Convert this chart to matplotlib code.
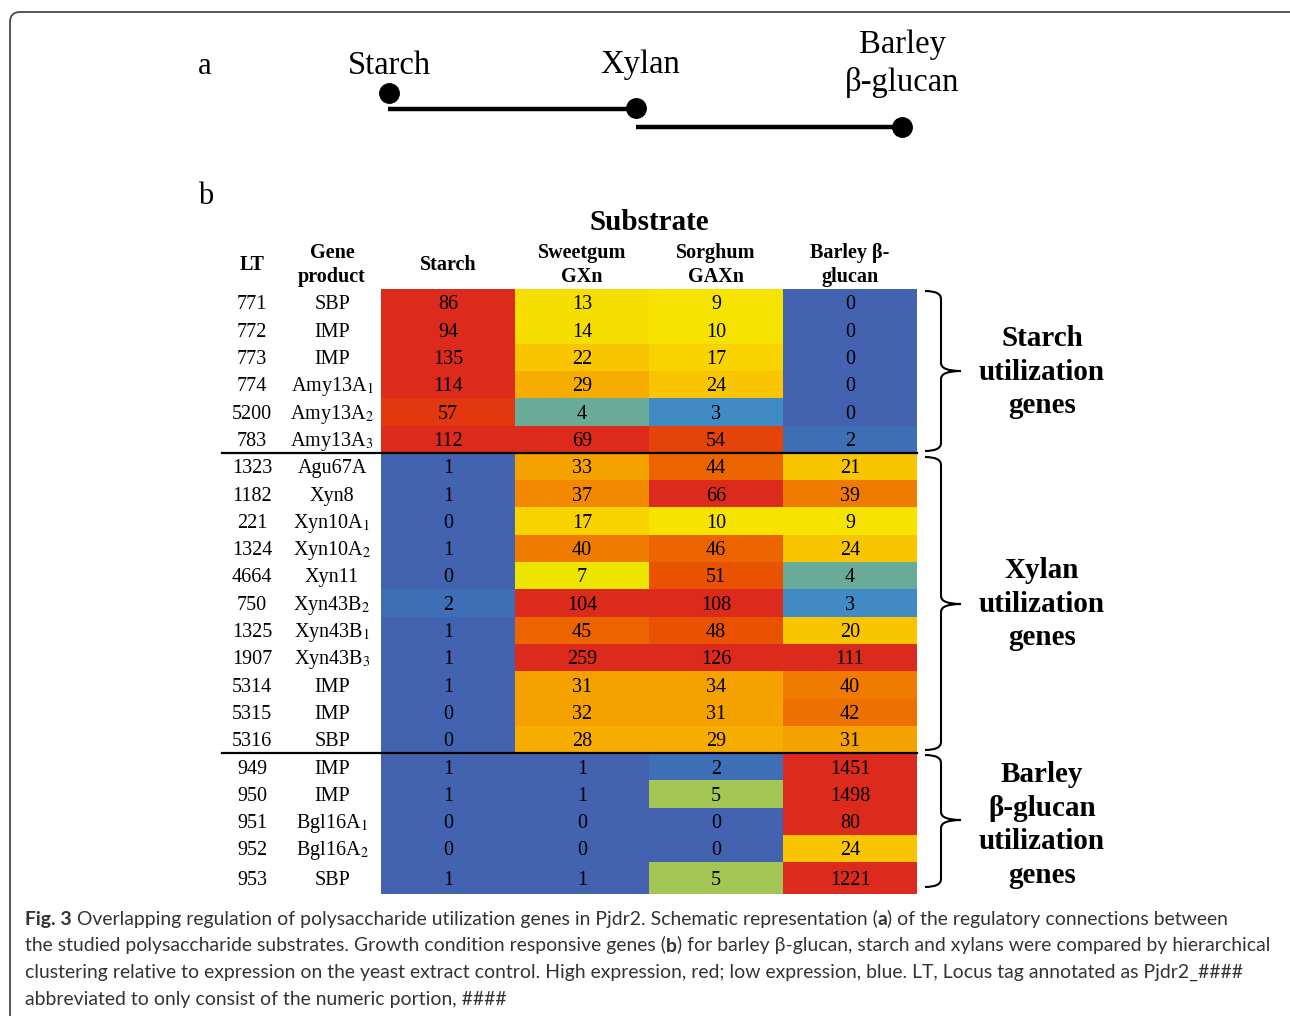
import numpy as np
import matplotlib
matplotlib.use('Agg')
import matplotlib.pyplot as plt
from matplotlib.colors import ListedColormap, BoundaryNorm
from matplotlib.patches import FancyBboxPatch, PathPatch
from matplotlib.path import Path

plt.rcParams['mathtext.fontset'] = 'stix'

# data
lt = ['771', '772', '773', '774', '5200', '783', '1323', '1182', '221', '1324', '4664',
      '750', '1325', '1907', '5314', '5315', '5316', '949', '950', '951', '952', '953']
genes = ['SBP', 'IMP', 'IMP', 'Amy13A$_1$', 'Amy13A$_2$', 'Amy13A$_3$', 'Agu67A', 'Xyn8',
         'Xyn10A$_1$', 'Xyn10A$_2$', 'Xyn11', 'Xyn43B$_2$', 'Xyn43B$_1$', 'Xyn43B$_3$',
         'IMP', 'IMP', 'SBP', 'IMP', 'IMP', 'Bgl16A$_1$', 'Bgl16A$_2$', 'SBP']
substrates = ['Starch', 'Sweetgum\nGXn', 'Sorghum\nGAXn', 'Barley β-\nglucan']
starch = [86, 94, 135, 114, 57, 112, 1, 1, 0, 1, 0, 2, 1, 1, 1, 0, 0, 1, 1, 0, 0, 1]
sweetgum = [13, 14, 22, 29, 4, 69, 33, 37, 17, 40, 7, 104, 45, 259, 31, 32, 28, 1, 1, 0, 0, 1]
sorghum = [9, 10, 17, 24, 3, 54, 44, 66, 10, 46, 51, 108, 48, 126, 34, 31, 29, 2, 5, 0, 0, 5]
barley = [0, 0, 0, 0, 0, 2, 21, 39, 9, 24, 4, 3, 20, 111, 40, 42, 31, 1451, 1498, 80, 24, 1221]
groups = ['Starch\nutilization\ngenes', 'Xylan\nutilization\ngenes',
          'Barley\nβ-glucan\nutilization\ngenes']

# colour scale (blue low -> yellow -> red high)
bounds = [0, 2, 3, 4, 5, 6, 8, 12, 16, 19, 26, 30, 35, 38, 41, 43, 47, 53, 56, 60, 5000]
cols = ['#4363b1', '#3e6eb5', '#418bc5', '#6aaa98', '#a4c655', '#ece500', '#f6e300',
        '#f6de00', '#f8d300', '#f9c500', '#f7ac00', '#f5a100', '#f28900', '#ef7b00',
        '#ee7000', '#eb6400', '#e85200', '#e4430a', '#e3380f', '#dc2a1c']
cmap = ListedColormap(cols)
norm = BoundaryNorm(bounds, cmap.N)

fig = plt.figure(figsize=(12.9, 10.16), dpi=100)
ax = fig.add_axes([0, 0, 1, 1])
ax.set_xlim(0, 1290)
ax.set_ylim(1016, 0)
ax.axis('off')

# outer frame
ax.add_patch(FancyBboxPatch((10, 12), 1300, 1100, boxstyle='round,pad=0,rounding_size=10',
                            fc='none', ec='#4a4a4a', lw=1.3))

serif = 'Liberation Serif'

# ---- panel a
ax.text(205, 66, 'a', fontsize=22, family=serif, ha='center', va='center')
ax.text(389, 66, 'Starch', fontsize=23.5, family=serif, ha='center', va='center')
ax.text(640, 65, 'Xylan', fontsize=23.5, family=serif, ha='center', va='center')
ax.text(902, 64, 'Barley\nβ-glucan', fontsize=23.5, family=serif, ha='center', va='center',
        linespacing=1.3)
ax.plot([388, 636], [109, 109], color='black', lw=3.2, solid_capstyle='butt')
ax.plot([636, 902], [127, 127], color='black', lw=3.2, solid_capstyle='butt')
ax.plot([389, 636, 902], [93, 108, 127], 'o', color='black', ms=14)

# ---- panel b
ax.text(206, 196, 'b', fontsize=22, family=serif, ha='center', va='center')
ax.text(649, 222, 'Substrate', fontsize=21, family=serif, fontweight='bold',
        ha='center', va='center')

x_edges = np.array([381, 515, 649, 783, 917])
row_h = 27.3
y_edges = np.append(289 + np.arange(22) * row_h, 894)
data = np.column_stack([starch, sweetgum, sorghum, barley])
ax.pcolormesh(x_edges, y_edges, data, cmap=cmap, norm=norm)

hdr_kw = dict(fontsize=14.5, family=serif, fontweight='bold', ha='center', va='center',
              linespacing=1.22)
ax.text(252, 265, 'LT', **hdr_kw)
ax.text(332, 265, 'Gene\nproduct', **hdr_kw)
for j, s in enumerate(substrates):
    ax.text((x_edges[j] + x_edges[j + 1]) / 2, 265, s, **hdr_kw)

yc = (y_edges[:-1] + y_edges[1:]) / 2
cell_kw = dict(fontsize=14.5, family=serif, ha='center', va='baseline')
for i in range(len(lt)):
    yb = yc[i] + 6.8
    ax.text(252, yb, lt[i], **cell_kw)
    ax.text(332, yb, genes[i], **cell_kw)
    for j in range(4):
        ax.text((x_edges[j] + x_edges[j + 1]) / 2, yb, str(data[i, j]), **cell_kw)

# group separators
for r in [6, 17]:
    ax.plot([222, 917], [y_edges[r], y_edges[r]], color='black', lw=1.6)


def brace(top, bot, mid, x0=925, xv=941, xt=961):
    verts = [(x0, top), (xv, top), (xv, top + 8), (xv, mid - 8), (xv, mid), (xt, mid),
             (xv, mid), (xv, mid + 8), (xv, bot - 8), (xv, bot), (x0, bot)]
    codes = [Path.MOVETO, Path.CURVE3, Path.CURVE3, Path.LINETO, Path.CURVE3, Path.CURVE3,
             Path.CURVE3, Path.CURVE3, Path.LINETO, Path.CURVE3, Path.CURVE3]
    ax.add_patch(PathPatch(Path(verts, codes), fc='none', ec='black', lw=1.5))


brace(291, 451, 371)
brace(457, 750, 604)
brace(755, 887, 820)

label_y = [372, 604, 825]
for g, y in zip(groups, label_y):
    ax.text(1042, y, g, fontsize=21, family=serif, fontweight='bold', ha='center',
            va='center', linespacing=1.32)

# ---- caption
cap_lines = [
    [('Fig. 3', True), (' Overlapping regulation of polysaccharide utilization genes in Pjdr2. '
                        'Schematic representation (', False), ('a', True),
     (') of the regulatory connections between', False)],
    [('the studied polysaccharide substrates. Growth condition responsive genes (', False),
     ('b', True), (') for barley β-glucan, starch and xylans were compared by hierarchical', False)],
    [('clustering relative to expression on the yeast extract control. High expression, red; '
      'low expression, blue. LT, Locus tag annotated as Pjdr2_####', False)],
    [('abbreviated to only consist of the numeric portion, ####', False)],
]
cap_targets = [1230, 1238, 1251]
cap_font = 'Lato'
renderer = fig.canvas.get_renderer()


def text_w(s, size, bold):
    t = ax.text(0, 0, s, fontsize=size, family=cap_font, fontweight='bold' if bold else 'normal')
    w = t.get_window_extent(renderer).width
    t.remove()
    return w


def draw_line(x, y, runs, size, draw=True):
    sp = text_w('a a', size, False) - text_w('aa', size, False)
    for s, bold in runs:
        n_lead = len(s) - len(s.lstrip(' '))
        n_trail = len(s) - len(s.rstrip(' '))
        x += n_lead * sp
        s2 = s.strip(' ')
        if draw:
            ax.text(x, y, s2, fontsize=size, family=cap_font, color='#333333',
                    fontweight='bold' if bold else 'normal', ha='left', va='baseline')
        x += text_w(s2, size, bold) + n_trail * sp
    return x


cap_size = min(12 * tw / draw_line(0, 0, cap_lines[k], 12, draw=False)
               for k, tw in enumerate(cap_targets))
for k, runs in enumerate(cap_lines):
    draw_line(25, 925 + k * 26.5, runs, cap_size)

fig.savefig('out.png', dpi=100)
